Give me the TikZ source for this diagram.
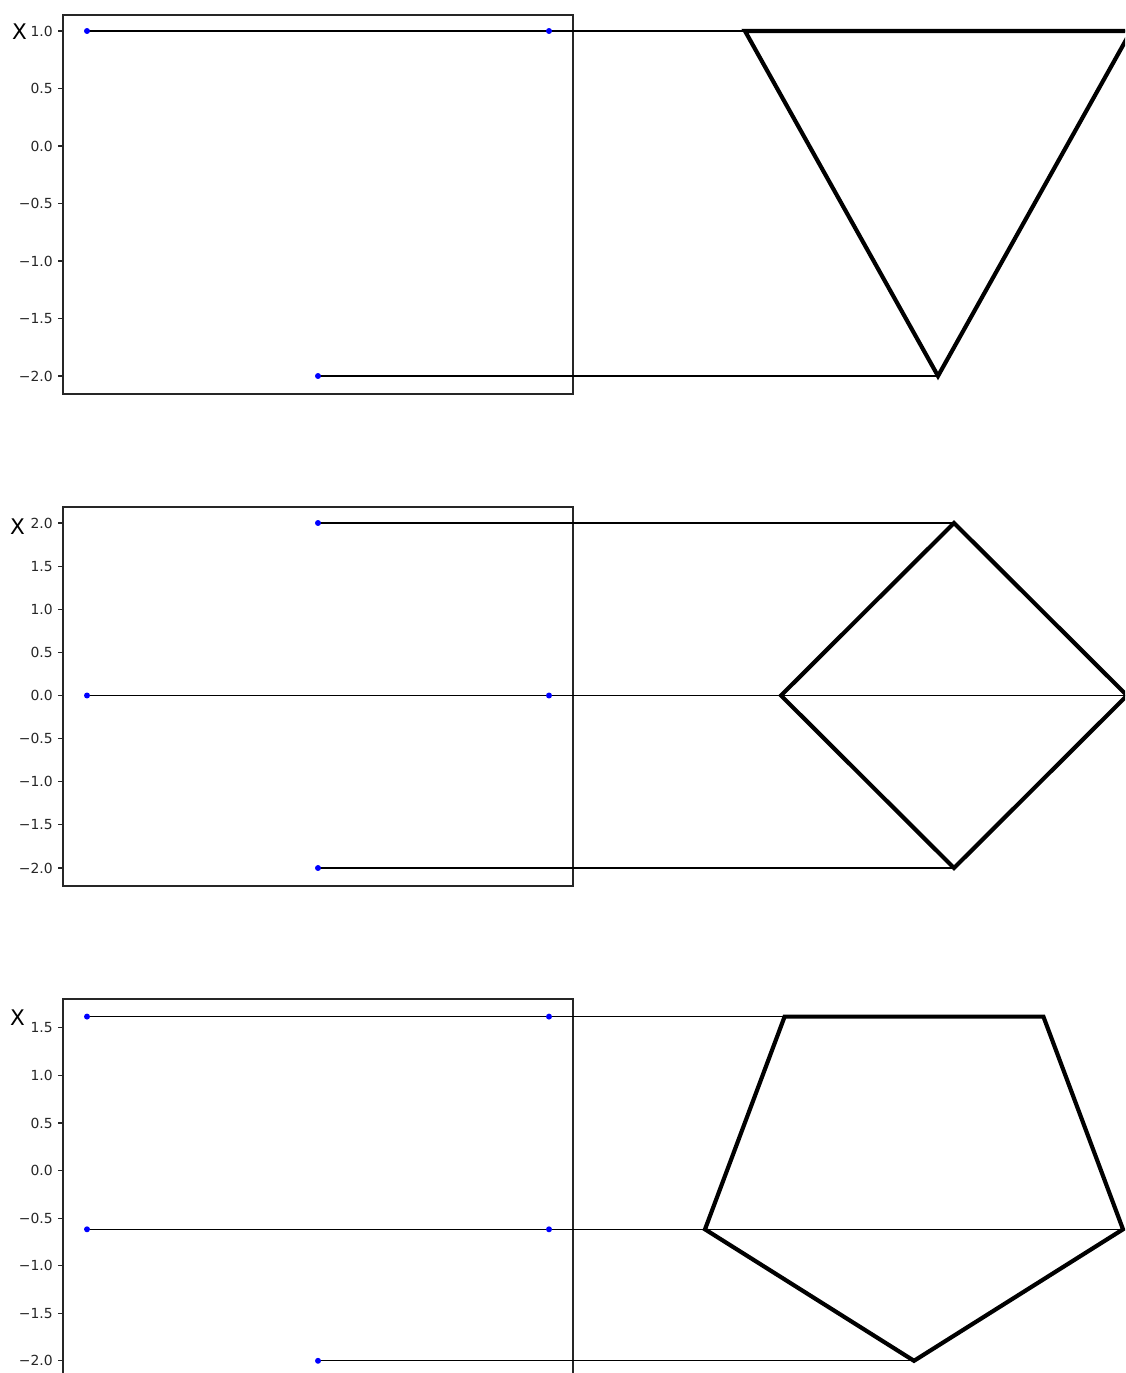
\documentclass[tikz,border=0pt]{standalone}
\usepackage{fontspec}
\setmainfont{DejaVu Sans}
\begin{document}
\begin{tikzpicture}[x=0.72pt,y=-0.72pt,
  spine/.style={draw=black!85,line width=0.8pt},
  thin/.style={draw=black,line width=0.75pt},
  thick/.style={draw=black,line width=3pt,line join=miter},
  dot/.style={circle,fill=blue,inner sep=0pt,minimum size=4.3pt},
  ticklab/.style={anchor=east,inner sep=0pt,font=\fontsize{10}{12}\selectfont,text=black!85},
  ylab/.style={inner sep=0pt,font=\fontsize{15.5}{18}\selectfont}]
\clip (0,0) rectangle (1125,1373);
\fill[white] (0,0) rectangle (1125,1373);
% ---------------- panel 1 ----------------
\draw[spine] (63,15) rectangle (573,394);
\foreach \v/\t in {1.0/1.0,0.5/0.5,0.0/0.0,-0.5/−0.5,-1.0/−1.0,-1.5/−1.5,-2.0/−2.0}{
  \pgfmathsetmacro{\yy}{31+(1-\v)*115}
  \draw[spine] (58,\yy) -- (63,\yy);
  \node[ticklab] at (53,\yy) {\t};
}
\node[ylab] (xa) at (19.5,32) {X};
\coordinate (a1) at (87,31);
\coordinate (a2) at (549,31);
\coordinate (a3) at (318,376);
\coordinate (ta) at (745,31);
\coordinate (tb) at (1131,31);
\coordinate (tc) at (938,376);
\draw[thin] (a1) -- (ta);
\draw[thin] (a2) -- (tb);
\draw[thin] (a3) -- (tc);
\draw[thick] (ta) -- (tb) -- (tc) -- cycle;
\node[dot] (da1) at (a1) {};
\node[dot] (da2) at (a2) {};
\node[dot] (da3) at (a3) {};
% ---------------- panel 2 ----------------
\draw[spine] (63,507) rectangle (573,886);
\foreach \v/\t in {2.0/2.0,1.5/1.5,1.0/1.0,0.5/0.5,0.0/0.0,-0.5/−0.5,-1.0/−1.0,-1.5/−1.5,-2.0/−2.0}{
  \pgfmathsetmacro{\yy}{523+(2-\v)*86.25}
  \draw[spine] (58,\yy) -- (63,\yy);
  \node[ticklab] at (53,\yy) {\t};
}
\node[ylab] (xb) at (17.5,527) {X};
\coordinate (b1) at (318,523);
\coordinate (b2) at (87,695.5);
\coordinate (b3) at (549,695.5);
\coordinate (b4) at (318,868);
\coordinate (qa) at (954,523);
\coordinate (qb) at (781,695.5);
\coordinate (qc) at (1127,695.5);
\coordinate (qd) at (954,868);
\draw[thin] (b1) -- (qa);
\draw[thin] (b2) -- (qb);
\draw[thin] (b3) -- (qc);
\draw[thin] (b4) -- (qd);
\draw[thick] (qa) -- (qc) -- (qd) -- (qb) -- cycle;
\node[dot] (db1) at (b1) {};
\node[dot] (db2) at (b2) {};
\node[dot] (db3) at (b3) {};
\node[dot] (db4) at (b4) {};
% ---------------- panel 3 ----------------
\draw[spine] (63,1400) -- (63,999) -- (573,999) -- (573,1400);
\foreach \v/\t in {1.5/1.5,1.0/1.0,0.5/0.5,0.0/0.0,-0.5/−0.5,-1.0/−1.0,-1.5/−1.5,-2.0/−2.0}{
  \pgfmathsetmacro{\yy}{1170.5-\v*95.14}
  \draw[spine] (58,\yy) -- (63,\yy);
  \node[ticklab] at (53,\yy) {\t};
}
\node[ylab] (xc) at (17.5,1018) {X};
\coordinate (c1) at (87,1016.6);
\coordinate (c2) at (549,1016.6);
\coordinate (c3) at (87,1229.3);
\coordinate (c4) at (549,1229.3);
\coordinate (c5) at (318,1360.8);
\coordinate (pa) at (784.6,1016.6);
\coordinate (pb) at (1043.4,1016.6);
\coordinate (pc) at (1123,1229.3);
\coordinate (pd) at (914,1360.8);
\coordinate (pe) at (705,1229.3);
\draw[thin] (c1) -- (pa);
\draw[thin] (c2) -- (pb);
\draw[thin] (c3) -- (pe);
\draw[thin] (c4) -- (pc);
\draw[thin] (c5) -- (pd);
\draw[thick] (pa) -- (pb) -- (pc) -- (pd) -- (pe) -- cycle;
\node[dot] (dc1) at (c1) {};
\node[dot] (dc2) at (c2) {};
\node[dot] (dc3) at (c3) {};
\node[dot] (dc4) at (c4) {};
\node[dot] (dc5) at (c5) {};
\end{tikzpicture}
\end{document}
